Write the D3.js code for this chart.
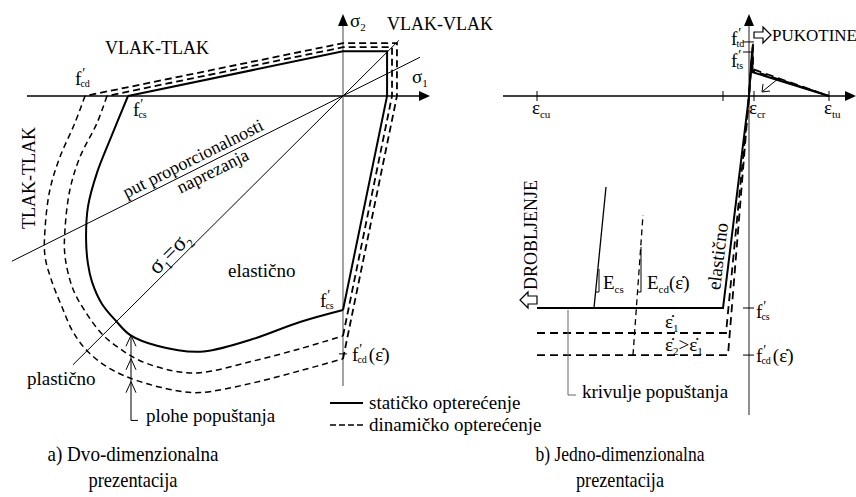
<!DOCTYPE html>
<html>
<head>
<meta charset="utf-8">
<script src="https://cdn.jsdelivr.net/npm/d3@7"></script>
<style>
  body { margin: 0; background: #fff; }
  svg, svg text { font-family: "Liberation Serif", "DejaVu Serif", serif; }
  svg text { fill: #000; }
</style>
</head>
<body>
<svg id="chart" width="856" height="497" font-family="Liberation Serif, DejaVu Serif, serif"></svg>
<script>
// ---- left panel: biaxial yield surfaces, stresses in units of f'cs ----
var staticCurve = [[-1,0],[-1.084,-0.205],[-1.144,-0.358],[-1.186,-0.516],[-1.195,-0.67],[-1.186,-0.786],
  [-1.167,-0.87],[-1.121,-0.972],[-1.056,-1.051],[-0.991,-1.116],[-0.865,-1.167],[-0.665,-1.195],
  [-0.433,-1.14],[-0.2,-1.056],[0,-1]];
var staticCorner = [[0,-1],[0.205,0],[0.205,0.209],[0,0.209],[-1,0]];

var dyn1Curve = [[-1.098,0],[-1.144,-0.126],[-1.223,-0.284],[-1.27,-0.437],[-1.293,-0.623],[-1.293,-0.749],
  [-1.256,-0.902],[-1.2,-1.005],[-1.121,-1.112],[-1.037,-1.181],[-0.944,-1.237],[-0.791,-1.284],
  [-0.665,-1.293],[-0.433,-1.242],[-0.2,-1.181],[0,-1.121]];
var dyn1Corner = [[0,-1.121],[0.228,0],[0.228,0.228],[0,0.228],[-1.098,0]];

var dyn2Curve = [[-1.2,0],[-1.247,-0.126],[-1.316,-0.284],[-1.363,-0.437],[-1.386,-0.623],[-1.386,-0.749],
  [-1.353,-0.87],[-1.307,-0.986],[-1.256,-1.102],[-1.186,-1.195],[-1.084,-1.274],[-0.958,-1.33],
  [-0.772,-1.377],[-0.665,-1.386],[-0.433,-1.344],[-0.2,-1.284],[0,-1.228]];
var dyn2Corner = [[0,-1.228],[0.251,0],[0.251,0.247],[0,0.247],[-1.2,0]];

var equalStressLine = [[-1.256,-1.256],[0.26,0.26]];
var proportionalLine = [[-1.54,-0.772],[0.358,0.181]];
var surfaceArrowU = -0.986;
var surfaceArrowTips = [-1.118, -1.228, -1.335];
var surfaceArrowEnd = -1.516;

// ---- right panel: uniaxial stress-strain (strain in units of eps_tu) ----
var staticSS = [[-2.65,-1],[-0.325,-1],[0,0],[0.0375,0.2075],[0.0375,0.113],[1,0]];
var dyn1SS = [[-2.65,-1.118],[-0.2875,-1.118],[0,0],[0.045,0.23],[0.045,0.12],[1,0]];
var dyn2SS = [[-2.65,-1.222],[-0.2625,-1.222],[0,0],[0.05,0.255],[0.05,0.126],[1,0]];
var unloadStatic = [[-1.9375,-1],[-1.7875,-0.429]];
var unloadDyn = [[-1.45,-1.222],[-1.325,-0.561]];
var strainTicks = [-2.65, -0.325, 0.0625, 1];
var strainSubs = ["cu", "", "cr", "tu"];
var stressTicks = [0.255, 0.2075, -1, -1.222];
var stressSubs = ["td", "ts", "cs", "cd"];

var svg = d3.select("#chart");

var sx = d3.scaleLinear().domain([-1, 0]).range([128, 343]);
var sy = d3.scaleLinear().domain([-1, 0]).range([310, 96]);
var ex = d3.scaleLinear().domain([0, 1]).range([749, 829]);
var ey = d3.scaleLinear().domain([-1, 0]).range([308, 96]);

function draw(g, pts, xs, ys, style, curve) {
  var p = g.append("path").datum(pts)
    .attr("d", d3.line().x(function(d) { return xs(d[0]); }).y(function(d) { return ys(d[1]); })
      .curve(curve || d3.curveLinear))
    .attr("fill", "none").attr("stroke", style.color || "#000")
    .attr("stroke-width", style.width || 1);
  if (style.dash) p.attr("stroke-dasharray", style.dash);
  return p;
}

var solid = {width: 2};
var dashed = {width: 1.5, dash: "6,4"};
var thin = {width: 1};

function txt(g, x, y, s, size) {
  return g.append("text").attr("x", x).attr("y", y).style("font-size", (size || 19) + "px").text(s);
}
// symbol with subscript, e.g. sigma_1
function subLabel(g, x, y, base, s, size, tail) {
  var t = g.append("text").attr("x", x).attr("y", y).style("font-size", (size || 19) + "px");
  t.append("tspan").text(base);
  t.append("tspan").attr("dy", 4).style("font-size", "11px").text(s);
  if (tail) t.append("tspan").attr("dy", -4).text(tail);
  return t;
}
// f' with prime stacked over the subscript
function fLabel(g, x, y, s, tail) {
  var t = g.append("text").attr("x", x).attr("y", y).style("font-size", "19px");
  t.append("tspan").text("f");
  t.append("tspan").attr("dx", 1).attr("dy", -7).style("font-size", "14px").text("\u2032");
  t.append("tspan").attr("dx", -5).attr("dy", 9).style("font-size", "10px").text(s);
  if (tail) t.append("tspan").attr("dx", 2).attr("dy", -2).text(tail);
  return t;
}
function arrowHead(g, x, y, dir) {
  var pts = dir === "right" ? [[x, y], [x - 11, y - 5], [x - 11, y + 5]] : [[x, y], [x - 5, y + 12], [x + 5, y + 12]];
  g.append("path").attr("d", "M" + pts.join("L") + "Z").attr("fill", "#000");
}

// ================= left panel =================
var L = svg.append("g");

// axes
L.append("line").attr("x1", 27).attr("x2", 420).attr("y1", sy(0)).attr("y2", sy(0))
  .attr("stroke", "#000").attr("stroke-width", 1.3);
arrowHead(L, 430, sy(0), "right");
L.append("line").attr("x1", sx(0)).attr("x2", sx(0)).attr("y1", 22).attr("y2", 386)
  .attr("stroke", "#666").attr("stroke-width", 1.2);
arrowHead(L, sx(0), 14, "up");

// guide lines
draw(L, equalStressLine, sx, sy, thin);
draw(L, proportionalLine, sx, sy, thin);

// yield surfaces
draw(L, dyn2Curve, sx, sy, dashed, d3.curveCatmullRom);
draw(L, dyn2Corner, sx, sy, {width: 1.8, dash: "7,4"});
draw(L, dyn1Curve, sx, sy, dashed, d3.curveCatmullRom);
draw(L, dyn1Corner, sx, sy, {width: 1.8, dash: "7,4"});
draw(L, staticCurve, sx, sy, solid, d3.curveCatmullRom);
draw(L, staticCorner, sx, sy, solid);

// arrow pointing at the yield surfaces
var ax = sx(surfaceArrowU);
L.append("path").attr("d", "M" + ax + "," + sy(surfaceArrowTips[0]) + "V" + sy(surfaceArrowEnd) + "H" + (ax + 7))
  .attr("fill", "none").attr("stroke", "#000").attr("stroke-width", 1);
surfaceArrowTips.forEach(function(v) {
  var ty = sy(v);
  L.append("path").attr("d", "M" + (ax - 5) + "," + (ty + 11) + "L" + ax + "," + ty + "L" + (ax + 5) + "," + (ty + 11))
    .attr("fill", "none").attr("stroke", "#000").attr("stroke-width", 1);
});
// tick for f'cd(eps)
L.append("line").attr("x1", sx(0) - 4).attr("x2", sx(0) + 4).attr("y1", sy(-1.205)).attr("y2", sy(-1.205))
  .attr("stroke", "#000");

// labels
txt(L, 105, 54, "VLAK-TLAK", 18);
txt(L, 387, 30, "VLAK-VLAK", 18);
L.append("text").attr("transform", "translate(35,178) rotate(-90)").attr("text-anchor", "middle")
  .style("font-size", "18px").text("TLAK-TLAK");
subLabel(L, 350, 27, "\u03C3", "2");
subLabel(L, 412, 83, "\u03C3", "1");
fLabel(L, 75, 85, "cd");
fLabel(L, 133, 116, "cs");
fLabel(L, 320, 307, "cs");
fLabel(L, 352, 361, "cd", "(\u03B5\u0307)");
txt(L, 228, 277, "elasti\u010Dno");
txt(L, 27, 385, "plasti\u010Dno");
txt(L, 146, 422, "plohe popu\u0161tanja");

// rotated labels along guide lines
var eq = L.append("text").attr("transform", "translate(" + sx(-0.77) + "," + sy(-0.77) + ") rotate(-45)")
  .attr("text-anchor", "middle").attr("dy", -4).style("font-size", "23px");
eq.append("tspan").text("\u03C3");
eq.append("tspan").attr("dy", 5).style("font-size", "12px").text("1");
eq.append("tspan").attr("dy", -5).text("=\u03C3");
eq.append("tspan").attr("dy", 5).style("font-size", "12px").text("2");

var p0 = proportionalLine[0], p1 = proportionalLine[1];
var pAng = Math.atan2(sy(p1[1]) - sy(p0[1]), sx(p1[0]) - sx(p0[0])) * 180 / Math.PI;
L.append("text").attr("transform", "translate(" + sx(-0.675) + "," + sy(-0.338) + ") rotate(" + pAng + ")")
  .attr("text-anchor", "middle").attr("dy", -5).style("font-size", "18px").text("put proporcionalnosti");
L.append("text").attr("transform", "translate(" + sx(-0.625) + "," + sy(-0.313) + ") rotate(" + pAng + ")")
  .attr("text-anchor", "middle").attr("dy", 15).style("font-size", "18px").text("naprezanja");

// legend
L.append("line").attr("x1", 330).attr("x2", 363).attr("y1", 403).attr("y2", 403)
  .attr("stroke", "#000").attr("stroke-width", 2);
txt(L, 369, 409, "stati\u010Dko optere\u0107enje");
L.append("line").attr("x1", 330).attr("x2", 363).attr("y1", 425).attr("y2", 425)
  .attr("stroke", "#000").attr("stroke-width", 1.5).attr("stroke-dasharray", "6,3");
txt(L, 369, 431, "dinami\u010Dko optere\u0107enje");

// ================= right panel =================
var R = svg.append("g");

R.append("line").attr("x1", 503).attr("x2", 846).attr("y1", ey(0)).attr("y2", ey(0))
  .attr("stroke", "#000").attr("stroke-width", 1.3);
arrowHead(R, 856, ey(0), "right");
R.append("line").attr("x1", ex(0)).attr("x2", ex(0)).attr("y1", 22).attr("y2", 415)
  .attr("stroke", "#444").attr("stroke-width", 1.2);
arrowHead(R, ex(0), 14, "up");

strainTicks.forEach(function(v, i) {
  R.append("line").attr("x1", ex(v)).attr("x2", ex(v)).attr("y1", ey(0) - 5).attr("y2", ey(0) + 5)
    .attr("stroke", "#000");
  if (strainSubs[i]) subLabel(R, ex(v) - 5, 114, "\u03B5", strainSubs[i], 19);
});
stressTicks.forEach(function(v) {
  R.append("line").attr("x1", ex(0) - 6).attr("x2", ex(0) + 5).attr("y1", ey(v)).attr("y2", ey(v))
    .attr("stroke", "#000");
});
fLabel(R, 731, 45, stressSubs[0]);
fLabel(R, 731, 67, stressSubs[1]);
fLabel(R, 756, 318, stressSubs[2]);
fLabel(R, 756, 362, stressSubs[3], "(\u03B5\u0307)");

draw(R, dyn2SS, ex, ey, {width: 1.8, dash: "8,5"});
draw(R, dyn1SS, ex, ey, {width: 1.8, dash: "8,5"});
draw(R, staticSS, ex, ey, solid);
draw(R, unloadStatic, ex, ey, {width: 1.3});
draw(R, unloadDyn, ex, ey, {width: 1.3, dash: "6,4"});

// small slope triangles
R.append("path").attr("d", "M599,269V292H596").attr("fill", "none").attr("stroke", "#000");
R.append("path").attr("d", "M641,247V292H637").attr("fill", "none").attr("stroke", "#000");

// softening arrow
R.append("line").attr("x1", 779).attr("y1", 78).attr("x2", 763).attr("y2", 91).attr("stroke", "#000");
R.append("path").attr("d", "M763,84L762,92L770,91").attr("fill", "none").attr("stroke", "#000");

// hollow arrows
R.append("path").attr("d", "M754,32H763V27L771,35L763,43V38H754Z")
  .attr("fill", "#fff").attr("stroke", "#000").attr("stroke-width", 1.2);
txt(R, 772, 41, "PUKOTINE", 17);
R.append("path").attr("d", "M520,300L528,292V296H537V304H528V308Z")
  .attr("fill", "#fff").attr("stroke", "#000").attr("stroke-width", 1.2);
R.append("text").attr("transform", "translate(537,290) rotate(-90)")
  .style("font-size", "18px").text("DROBLJENJE");

subLabel(R, 603, 289, "E", "cs");
subLabel(R, 647, 289, "E", "cd", 19, "(\u03B5\u0307)");
subLabel(R, 665, 328, "\u03B5\u0307", "1");
var e2 = subLabel(R, 665, 351, "\u03B5\u0307", "2", 19, ">\u03B5\u0307");
e2.append("tspan").attr("dy", 4).style("font-size", "11px").text("1");

R.append("text").attr("transform", "translate(724,257) rotate(-83)").attr("text-anchor", "middle")
  .style("font-size", "19px").text("elasti\u010Dno");

R.append("path").attr("d", "M568,310V395H576").attr("fill", "none").attr("stroke", "#666");
txt(R, 582, 398, "krivulje popu\u0161tanja");

// captions
function caption(x, y, s, w) {
  svg.append("text").attr("x", x).attr("y", y).attr("text-anchor", "middle")
    .attr("textLength", w).attr("lengthAdjust", "spacingAndGlyphs")
    .style("font-size", "21px").text(s);
}
caption(133, 461, "a) Dvo-dimenzionalna", 171);
caption(133, 487, "prezentacija", 89);
caption(620, 461, "b) Jedno-dimenzionalna", 169);
caption(620, 487, "prezentacija", 88);
</script>
</body>
</html>
